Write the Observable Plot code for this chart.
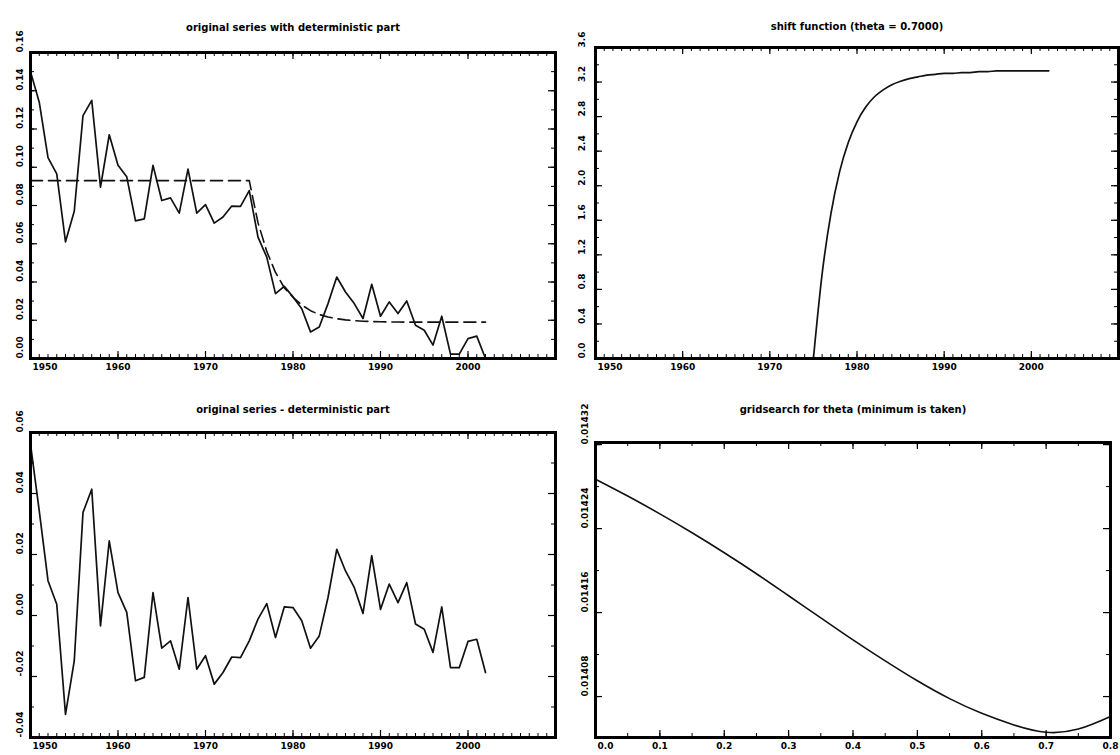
<!DOCTYPE html>
<html><head><meta charset="utf-8">
<script src="https://cdn.jsdelivr.net/npm/d3@7"></script>
<script src="https://cdn.jsdelivr.net/npm/@observablehq/plot@0.6"></script>
<style>
html,body{margin:0;padding:0;background:#fff;}
body{width:1120px;height:755px;overflow:hidden;position:relative;}
.panel{position:absolute;}
.panel svg{overflow:visible;display:block;}
</style></head><body>
<div id="tl" class="panel" style="left:0px;top:0px"></div>
<div id="tr" class="panel" style="left:560px;top:0px"></div>
<div id="bl" class="panel" style="left:0px;top:380px"></div>
<div id="br" class="panel" style="left:560px;top:380px"></div>
<script>
// ---------- data ----------
const years = d3.range(1950, 2003);
const series = [
  0.150, 0.134, 0.105, 0.0965, 0.061, 0.077, 0.127, 0.135, 0.0896, 0.117,
  0.101, 0.095, 0.072, 0.073, 0.101, 0.0826, 0.084, 0.076, 0.099, 0.076,
  0.0805, 0.0708, 0.074, 0.0797, 0.0795, 0.0878, 0.0635, 0.053, 0.0339, 0.0377,
  0.0322, 0.026, 0.0139, 0.0165, 0.0287, 0.0426, 0.0348, 0.0287, 0.0209, 0.0388,
  0.0221, 0.0296, 0.0235, 0.0301, 0.0174, 0.0148, 0.007, 0.0221, 0.0023, 0.0023,
  0.0104, 0.0117, 0.0
];
const deterministic = [
  0.093, 0.093, 0.093, 0.093, 0.093, 0.093, 0.093, 0.093, 0.093, 0.093,
  0.093, 0.093, 0.093, 0.093, 0.093, 0.093, 0.093, 0.093, 0.093, 0.093,
  0.093, 0.093, 0.093, 0.093, 0.093, 0.093, 0.071, 0.056, 0.045, 0.037,
  0.032, 0.028, 0.025, 0.023, 0.0217, 0.0208, 0.0202, 0.0198, 0.0195, 0.0193,
  0.0192, 0.0191, 0.0191, 0.019, 0.019, 0.019, 0.019, 0.019, 0.019, 0.019,
  0.019, 0.019, 0.019
];
const shiftFn = [
  0, 0, 0, 0, 0, 0, 0, 0, 0, 0,
  0, 0, 0, 0, 0, 0, 0, 0, 0, 0,
  0, 0, 0, 0, 0, 0, 0.98, 1.67, 2.16, 2.50,
  2.74, 2.91, 3.03, 3.11, 3.17, 3.21, 3.24, 3.26, 3.28, 3.29,
  3.30, 3.30, 3.31, 3.31, 3.32, 3.32, 3.33, 3.33, 3.33, 3.33,
  3.33, 3.33, 3.33
];
const residual = [
  0.0562, 0.0343, 0.0114, 0.0037, -0.0324, -0.0149, 0.0338, 0.0414, -0.0034, 0.0245,
  0.0075, 0.0010, -0.0214, -0.0203, 0.0075, -0.0107, -0.0083, -0.0176, 0.0059, -0.0176,
  -0.0132, -0.0225, -0.0187, -0.0136, -0.0138, -0.0083, -0.0012, 0.0039, -0.0072, 0.0028,
  0.0026, -0.0017, -0.0107, -0.0067, 0.0059, 0.0217, 0.0146, 0.0092, 0.0007, 0.0196,
  0.0020, 0.0103, 0.0042, 0.0108, -0.0028, -0.0045, -0.0121, 0.0028, -0.0171, -0.0171,
  -0.0085, -0.0078, -0.0187
];
const thetaGrid = [0.00, 0.05, 0.10, 0.15, 0.20, 0.25, 0.30, 0.35, 0.40, 0.45, 0.50, 0.55, 0.60, 0.65, 0.70, 0.75, 0.80];
const gridCriterion = [
  0.014287, 0.014271, 0.014254, 0.014236, 0.014217, 0.014197, 0.014176, 0.014155, 0.014134,
  0.014114, 0.014095, 0.014078, 0.014064, 0.014053, 0.014046, 0.014049, 0.014061
];

const yearTicks = [1950, 1960, 1970, 1980, 1990, 2000, 2010];
const yearLabels = [1950, 1960, 1970, 1980, 1990, 2000];
const tlYTicks = [0.00, 0.02, 0.04, 0.06, 0.08, 0.10, 0.12, 0.14, 0.16];
const trYTicks = [0.0, 0.4, 0.8, 1.2, 1.6, 2.0, 2.4, 2.8, 3.2, 3.6];
const blYTicks = [-0.04, -0.02, 0.00, 0.02, 0.04, 0.06];
const brXTicks = [0.0, 0.1, 0.2, 0.3, 0.4, 0.5, 0.6, 0.7, 0.8];
const brYTicks = [0.01408, 0.01416, 0.01424, 0.01432];

const titles = {
  tl: "original series with deterministic part",
  tr: "shift function (theta = 0.7000)",
  bl: "original series - deterministic part",
  br: "gridsearch for theta (minimum is taken)"
};

// ---------- tables ----------
const tsData = years.map((year, i) => ({year, series: series[i], det: deterministic[i], shift: shiftFn[i], resid: residual[i]}));
const gridData = thetaGrid.map((theta, i) => ({theta, crit: gridCriterion[i]}));

// ---------- helpers ----------
const FONT = "'DejaVu Sans', sans-serif";
function within(arr, dom) {
  const lo = Math.min(...dom), hi = Math.max(...dom);
  return arr.filter(v => v >= lo - 1e-12 && v <= hi + 1e-12);
}
function panel(o) {
  const fh = o.height - o.mt - o.mb;
  const fw = o.width - o.ml - o.mr;
  const xMaj = within(o.xMajor, o.xDomain), xMin = within(o.xMinor, o.xDomain);
  const yMaj = within(o.yMajor, o.yDomain), yMin = within(o.yMinor, o.yDomain);
  const xLab = o.xLabels;
  const majL = 7, minL = 4;
  const chart = Plot.plot({
    width: o.width, height: o.height,
    marginLeft: o.ml, marginRight: o.mr, marginTop: o.mt, marginBottom: o.mb,
    x: {domain: o.xDomain, axis: null},
    y: {domain: o.yDomain, axis: null},
    style: {fontFamily: FONT, fontWeight: "bold", fontSize: "9px", background: "white", color: "black", overflow: "visible"},
    marks: [
      ...o.marks,
      // x ticks (bottom and top, inward)
      Plot.tickX(xMaj, {x: d => d, insetTop: fh - majL, stroke: "black", strokeWidth: 1.2}),
      Plot.tickX(xMaj, {x: d => d, insetBottom: fh - majL, stroke: "black", strokeWidth: 1.2}),
      Plot.tickX(xMin, {x: d => d, insetTop: fh - minL, stroke: "black", strokeWidth: 1}),
      Plot.tickX(xMin, {x: d => d, insetBottom: fh - minL, stroke: "black", strokeWidth: 1}),
      // y ticks (left and right, inward)
      Plot.tickY(yMaj, {y: d => d, insetRight: fw - majL, stroke: "black", strokeWidth: 1.2}),
      Plot.tickY(yMaj, {y: d => d, insetLeft: fw - majL, stroke: "black", strokeWidth: 1.2}),
      Plot.tickY(yMin, {y: d => d, insetRight: fw - minL, stroke: "black", strokeWidth: 1}),
      Plot.tickY(yMin, {y: d => d, insetLeft: fw - minL, stroke: "black", strokeWidth: 1}),
      Plot.frame({stroke: "black", strokeWidth: 3}),
      // x labels
      Plot.text(xLab.slice(0, 1), {x: d => d, frameAnchor: "bottom", dy: o.xLabelDy, dx: 2, textAnchor: "start", text: o.xFmt, fill: "black"}),
      Plot.text(xLab.slice(1), {x: d => d, frameAnchor: "bottom", dy: o.xLabelDy, text: o.xFmt, fill: "black"}),
      // y labels (rotated)
      Plot.text(o.yMajor, {y: d => d, frameAnchor: "left", dx: o.yLabelDx, rotate: -90, text: o.yFmt, fill: "black"}),
      // title
      Plot.text([o.title], {frameAnchor: "top", dy: o.titleDy, text: d => d, fontSize: 10, fill: "black"})
    ]
  });
  document.getElementById(o.el).appendChild(chart);
}

const lineStyle = {stroke: "#111", strokeWidth: 1.7, strokeLinejoin: "round"};
const yearMinor = d3.range(1950, 2011, 1);

// Top-left: original series with deterministic part
panel({
  el: "tl", width: 560, height: 380, ml: 30, mr: 5, mt: 52, mb: 22,
  xDomain: [1950, 2010], yDomain: [0, 0.16],
  xMajor: yearTicks, xMinor: yearMinor, xLabels: yearLabels,
  yMajor: tlYTicks, yMinor: d3.range(0, 0.1601, 0.01),
  xFmt: d => String(d), yFmt: d => d.toFixed(2),
  xLabelDy: 11, yLabelDx: -10, titleDy: -29, title: titles.tl,
  marks: [
    Plot.line(tsData, {x: "year", y: "det", ...lineStyle, strokeWidth: 1.6, strokeDasharray: "12,6"}),
    Plot.line(tsData, {x: "year", y: "series", ...lineStyle})
  ]
});

// Top-right: shift function
panel({
  el: "tr", width: 560, height: 380, ml: 35, mr: 2, mt: 47, mb: 22,
  xDomain: [1950, 2010], yDomain: [0, 3.6],
  xMajor: yearTicks, xMinor: yearMinor, xLabels: yearLabels,
  yMajor: trYTicks, yMinor: d3.range(0, 3.601, 0.2),
  xFmt: d => String(d), yFmt: d => d.toFixed(1),
  xLabelDy: 11, yLabelDx: -13, titleDy: -25, title: titles.tr,
  marks: [
    Plot.line(tsData.filter(d => d.year <= 1975), {x: "year", y: "shift", ...lineStyle}),
    Plot.line(tsData.filter(d => d.year >= 1975), {x: "year", y: "shift", ...lineStyle, curve: "monotone-x"})
  ]
});

// Bottom-left: residual
panel({
  el: "bl", width: 560, height: 375, ml: 30, mr: 5, mt: 52, mb: 18,
  xDomain: [1950, 2010], yDomain: [-0.04, 0.06],
  xMajor: yearTicks, xMinor: yearMinor, xLabels: yearLabels,
  yMajor: blYTicks, yMinor: d3.range(-0.04, 0.0601, 0.01),
  xFmt: d => String(d), yFmt: d => d.toFixed(2),
  xLabelDy: 11, yLabelDx: -10, titleDy: -27, title: titles.bl,
  marks: [
    Plot.line(tsData, {x: "year", y: "resid", ...lineStyle})
  ]
});

// Bottom-right: gridsearch
panel({
  el: "br", width: 560, height: 375, ml: 35, mr: 10, mt: 62, mb: 18,
  xDomain: [0, 0.8], yDomain: [0.014041, 0.014322],
  xMajor: brXTicks, xMinor: d3.range(0, 0.8001, 0.05), xLabels: brXTicks,
  yMajor: brYTicks, yMinor: d3.range(0.01404, 0.014321, 0.00004),
  xFmt: d => d.toFixed(1), yFmt: d => d.toFixed(5),
  xLabelDy: 11, yLabelDx: -10, titleDy: -37, title: titles.br,
  marks: [
    Plot.line(gridData, {x: "theta", y: "crit", ...lineStyle, strokeWidth: 1.6, curve: "natural"})
  ]
});
</script>
</body></html>
